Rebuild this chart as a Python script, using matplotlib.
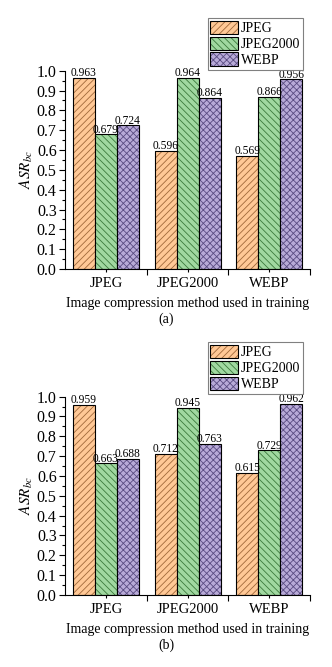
import numpy as np
import matplotlib
matplotlib.use("Agg")
import matplotlib.pyplot as plt
from matplotlib.ticker import MultipleLocator, FixedLocator

plt.rcParams["font.family"] = ["Liberation Serif", "DejaVu Serif"]
plt.rcParams["mathtext.fontset"] = "stix"
plt.rcParams["hatch.linewidth"] = 0.6

# dados
metodos = ["JPEG", "JPEG2000", "WEBP"]
series = ["JPEG", "JPEG2000", "WEBP"]
asr_a = {
    "JPEG": [0.963, 0.596, 0.569],
    "JPEG2000": [0.679, 0.964, 0.866],
    "WEBP": [0.724, 0.864, 0.956],
}
asr_b = {
    "JPEG": [0.959, 0.712, 0.615],
    "JPEG2000": [0.663, 0.945, 0.729],
    "WEBP": [0.688, 0.763, 0.962],
}
paineis = ["(a)", "(b)"]

cores = ["#FFC896", "#A0D8A0", "#B8AAD8"]
cores_hachura = ["#A0683A", "#3C7A3C", "#5A4C82"]
hachuras = ["/////", "\\\\\\\\\\", "xxxxx"]

fig = plt.figure(figsize=(3.32, 6.67), dpi=100)

# posicoes dos eixos (fracoes da figura)
posicoes = [[0.196, 0.5967, 0.738, 0.2973], [0.196, 0.108, 0.738, 0.2973]]
legenda_topo = [0.973, 0.487]
x = np.arange(len(metodos))
largura = 0.27

for k, dados in enumerate([asr_a, asr_b]):
    ax = fig.add_axes(posicoes[k])
    handles = []
    for i, s in enumerate(series):
        pos = x + (i - 1) * largura
        b1 = ax.bar(pos, dados[s], largura, color=cores[i], edgecolor=cores_hachura[i],
                    hatch=hachuras[i], linewidth=0)
        b2 = ax.bar(pos, dados[s], largura, fill=False, edgecolor="black", linewidth=0.8)
        handles.append((b1[0], b2[0]))
        for xp, v in zip(pos, dados[s]):
            ax.text(xp, v - 0.006, f"{v:.3f}", ha="center", va="bottom", fontsize=8.3)

    ax.set_xlim(-0.5, 2.5)
    ax.set_ylim(0, 1.0)
    ax.spines["top"].set_visible(False)
    ax.spines["right"].set_visible(False)
    ax.yaxis.set_major_locator(MultipleLocator(0.1))
    ax.yaxis.set_minor_locator(MultipleLocator(0.05))
    ax.yaxis.set_major_formatter(matplotlib.ticker.FormatStrFormatter("%.1f"))
    ax.set_xticks(x)
    ax.set_xticklabels(metodos)
    ax.xaxis.set_minor_locator(FixedLocator([0.5, 1.5, 2.5]))
    ax.tick_params(axis="x", which="major", direction="out", labelsize=10.5, width=0.8, length=2)
    ax.tick_params(axis="y", which="major", direction="out", labelsize=11.5, width=0.8,
                   length=4, pad=2)
    ax.tick_params(axis="y", which="minor", direction="out", length=2, width=0.8)
    ax.tick_params(axis="x", which="minor", direction="out", length=4, width=0.8)
    ax.set_ylabel(r"$ASR_{bc}$", fontsize=11, labelpad=1)
    ax.set_xlabel("Image compression method used in training", fontsize=10, labelpad=5)
    for sp in ["left", "bottom"]:
        ax.spines[sp].set_linewidth(0.8)

    leg = ax.legend(handles, series, loc="upper right", bbox_to_anchor=(0.913, legenda_topo[k]),
                    bbox_transform=fig.transFigure, fontsize=10, frameon=True, fancybox=False,
                    edgecolor="#808080", framealpha=1, borderpad=0.2, labelspacing=0.1,
                    handlelength=2.0, handleheight=1.1, handletextpad=0.2, borderaxespad=0)
    leg.get_frame().set_linewidth(0.8)

    # rotulo do painel
    y_painel = posicoes[k][1] - 0.075
    fig.text(0.5, y_painel, paineis[k], ha="center", va="center", fontsize=10)

fig.savefig("out.png", dpi=100)
print("ok")
